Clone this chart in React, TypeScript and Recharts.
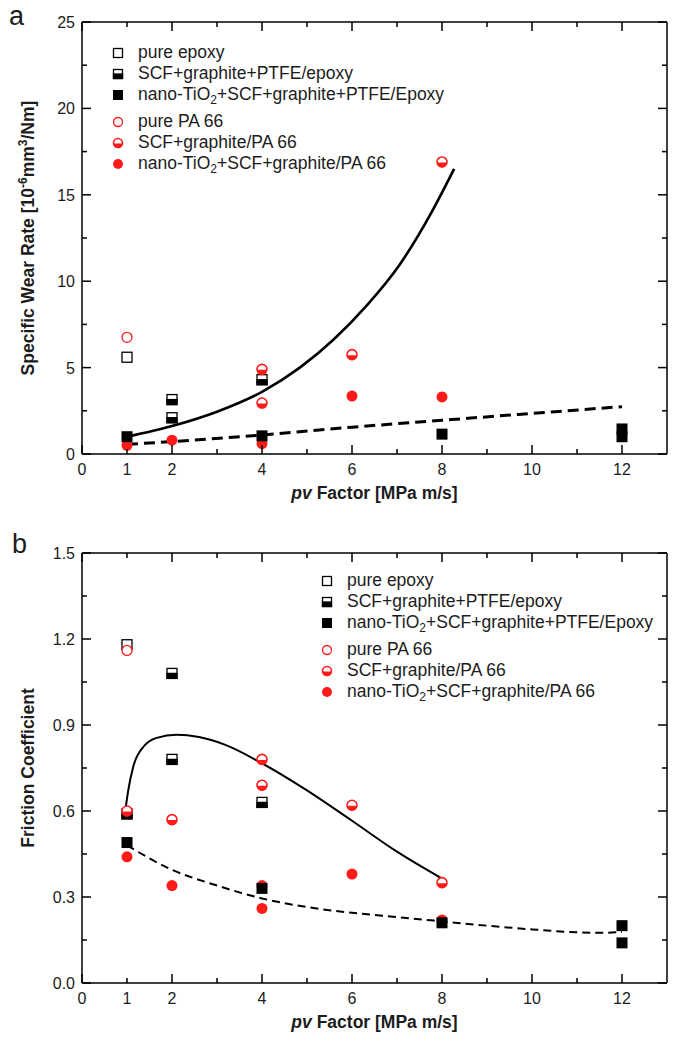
import {
  ComposedChart,
  Scatter,
  Line,
  XAxis,
  YAxis,
  ReferenceLine,
  Legend,
  Label,
} from 'recharts';

const FONT = '"Liberation Sans", Arial, Helvetica, sans-serif';
const RED = '#ff1a1a';
const INK = '#1c1c1c';

// pv factor axis (shared by both panels)
const xTicks = [0, 1, 2, 3, 4, 5, 6, 7, 8, 9, 10, 11, 12];
const xLabels = [0, 1, 2, 4, 6, 8, 10, 12];

// panel a: specific wear rate [10^-6 mm3/Nm]
const wearTicks = [0, 2.5, 5, 7.5, 10, 12.5, 15, 17.5, 20, 22.5, 25];
const wearPureEpoxy = [{ x: 1, y: 5.6 }];
const wearScfEpoxy = [
  { x: 2, y: 3.15 },
  { x: 2, y: 2.1 },
  { x: 4, y: 4.3 },
];
const wearNanoEpoxy = [
  { x: 1, y: 1.0 },
  { x: 4, y: 1.05 },
  { x: 8, y: 1.15 },
  { x: 12, y: 1.45 },
  { x: 12, y: 1.0 },
];
const wearPurePA = [{ x: 1, y: 6.75 }];
const wearScfPA = [
  { x: 4, y: 4.9 },
  { x: 4, y: 2.95 },
  { x: 6, y: 5.75 },
  { x: 8, y: 16.9 },
];
const wearNanoPA = [
  { x: 1, y: 0.5 },
  { x: 2, y: 0.8 },
  { x: 4, y: 0.6 },
  { x: 6, y: 3.35 },
  { x: 8, y: 3.3 },
];
// fitted curves
const wearFitSolid = [
  { x: 1, y: 1.0 },
  { x: 2, y: 1.62 },
  { x: 3, y: 2.45 },
  { x: 4, y: 3.6 },
  { x: 4.84, y: 5.0 },
  { x: 5.58, y: 6.6 },
  { x: 6.33, y: 8.6 },
  { x: 7.07, y: 11.0 },
  { x: 7.77, y: 14.0 },
  { x: 8.27, y: 16.5 },
];
const wearFitDashed = [
  { x: 1, y: 0.56 },
  { x: 2, y: 0.72 },
  { x: 4, y: 1.1 },
  { x: 6, y: 1.55 },
  { x: 8, y: 1.95 },
  { x: 10, y: 2.35 },
  { x: 12, y: 2.74 },
];

// panel b: friction coefficient
const fricTicks = [0, 0.15, 0.3, 0.45, 0.6, 0.75, 0.9, 1.05, 1.2, 1.35, 1.5];
const fricPureEpoxy = [{ x: 1, y: 1.18 }];
const fricScfEpoxy = [
  { x: 1, y: 0.59 },
  { x: 2, y: 1.08 },
  { x: 2, y: 0.78 },
  { x: 4, y: 0.63 },
];
const fricNanoEpoxy = [
  { x: 1, y: 0.49 },
  { x: 4, y: 0.33 },
  { x: 8, y: 0.21 },
  { x: 12, y: 0.2 },
  { x: 12, y: 0.14 },
];
const fricPurePA = [{ x: 1, y: 1.16 }];
const fricScfPA = [
  { x: 1, y: 0.6 },
  { x: 2, y: 0.57 },
  { x: 4, y: 0.78 },
  { x: 4, y: 0.69 },
  { x: 6, y: 0.62 },
  { x: 8, y: 0.35 },
];
const fricNanoPA = [
  { x: 1, y: 0.44 },
  { x: 2, y: 0.34 },
  { x: 4, y: 0.34 },
  { x: 4, y: 0.26 },
  { x: 6, y: 0.38 },
  { x: 8, y: 0.22 },
];
const fricFitSolid = [
  { x: 0.97, y: 0.61 },
  { x: 1.03, y: 0.674 },
  { x: 1.14, y: 0.755 },
  { x: 1.37, y: 0.825 },
  { x: 1.66, y: 0.855 },
  { x: 2.1, y: 0.866 },
  { x: 2.6, y: 0.858 },
  { x: 3.2, y: 0.83 },
  { x: 3.96, y: 0.77 },
  { x: 5.0, y: 0.672 },
  { x: 6.0, y: 0.566 },
  { x: 7.0, y: 0.458 },
  { x: 7.98, y: 0.366 },
];
const fricFitDashed = [
  { x: 1, y: 0.48 },
  { x: 2, y: 0.395 },
  { x: 3, y: 0.34 },
  { x: 4, y: 0.295 },
  { x: 5, y: 0.265 },
  { x: 6, y: 0.245 },
  { x: 7, y: 0.23 },
  { x: 8, y: 0.215 },
  { x: 9, y: 0.2 },
  { x: 10, y: 0.187 },
  { x: 11, y: 0.177 },
  { x: 11.5, y: 0.175 },
  { x: 12, y: 0.178 },
];

type Kind = 'sqOpen' | 'sqHalf' | 'sqFull' | 'cOpen' | 'cHalf' | 'cFull';

const subStyle = { fontSize: 12, verticalAlign: -4, lineHeight: 0 };

const legendRows: { kind: Kind; label: React.ReactNode }[] = [
  { kind: 'sqOpen', label: 'pure epoxy' },
  { kind: 'sqHalf', label: 'SCF+graphite+PTFE/epoxy' },
  {
    kind: 'sqFull',
    label: (
      <>
        nano-TiO<sub style={subStyle}>2</sub>+SCF+graphite+PTFE/Epoxy
      </>
    ),
  },
  { kind: 'cOpen', label: 'pure PA 66' },
  { kind: 'cHalf', label: 'SCF+graphite/PA 66' },
  {
    kind: 'cFull',
    label: (
      <>
        nano-TiO<sub style={subStyle}>2</sub>+SCF+graphite/PA 66
      </>
    ),
  },
];

function Marker({ kind, cx, cy, s = 10 }: { kind: Kind; cx: number; cy: number; s?: number }) {
  const h = s / 2;
  const r = s / 2 + 0.5;
  switch (kind) {
    case 'sqOpen':
      return <rect x={cx - h} y={cy - h} width={s} height={s} fill="#fff" stroke="#000" strokeWidth={1.3} />;
    case 'sqHalf':
      return (
        <g>
          <rect x={cx - h} y={cy - h} width={s} height={s} fill="#fff" stroke="#000" strokeWidth={1.3} />
          <rect x={cx - h} y={cy} width={s} height={h} fill="#000" stroke="#000" strokeWidth={1.3} />
        </g>
      );
    case 'sqFull':
      return <rect x={cx - h - 0.5} y={cy - h - 0.5} width={s + 1} height={s + 1} fill="#000" />;
    case 'cOpen':
      return <circle cx={cx} cy={cy} r={r - 0.5} fill="#fff" stroke={RED} strokeWidth={1.3} />;
    case 'cHalf':
      return (
        <g>
          <circle cx={cx} cy={cy} r={r - 0.5} fill="#fff" stroke={RED} strokeWidth={1.6} />
          <path
            d={`M${cx - r + 0.5},${cy + 0.5} A${r - 0.5},${r - 0.5} 0 0 0 ${cx + r - 0.5},${cy + 0.5} Z`}
            fill={RED}
          />
        </g>
      );
    default:
      return <circle cx={cx} cy={cy} r={r} fill={RED} />;
  }
}

const shapeOf = (kind: Kind) => (p: any) => <Marker kind={kind} cx={p.cx} cy={p.cy} />;

function makeXTick(plotH: number) {
  return (props: any) => {
    const { x, y, payload, index } = props;
    const len = index % 2 === 0 ? 9 : 5;
    const v = payload.value;
    return (
      <g>
        <line x1={x} x2={x} y1={y} y2={y - len} stroke="#000" strokeWidth={1.5} />
        <line x1={x} x2={x} y1={y - plotH} y2={y - plotH + len} stroke="#000" strokeWidth={1.5} />
        {xLabels.includes(v) && (
          <text x={x} y={y + 21} textAnchor="middle" fontSize={16} fill={INK} fontFamily={FONT}>
            {v}
          </text>
        )}
      </g>
    );
  };
}

function makeYTick(plotW: number, digits: number) {
  return (props: any) => {
    const { x, y, payload, index } = props;
    const major = index % 2 === 0;
    const len = major ? 9 : 5;
    return (
      <g>
        <line x1={x} x2={x + len} y1={y} y2={y} stroke="#000" strokeWidth={1.5} />
        <line x1={x + plotW - len} x2={x + plotW} y1={y} y2={y} stroke="#000" strokeWidth={1.5} />
        {major && (
          <text x={x - 7} y={y + 6} textAnchor="end" fontSize={16} fill={INK} fontFamily={FONT}>
            {payload.value.toFixed(digits)}
          </text>
        )}
      </g>
    );
  };
}

function makeLegend() {
  return () => (
    <div style={{ fontFamily: FONT, fontSize: 17.5, color: INK }}>
      {legendRows.map((row, i) => (
        <div
          key={i}
          style={{
            height: 21,
            display: 'flex',
            alignItems: 'center',
            marginTop: i === 3 ? 6 : 0,
            whiteSpace: 'nowrap',
          }}
        >
          <svg width={12} height={12} style={{ marginRight: 14, flex: 'none' }}>
            <Marker kind={row.kind} cx={6} cy={6} s={9} />
          </svg>
          <span>{row.label}</span>
        </div>
      ))}
    </div>
  );
}

const xLabelContent = (props: any) => {
  const vb = props.viewBox;
  return (
    <text
      x={vb.x + vb.width / 2}
      y={vb.y + 45}
      textAnchor="middle"
      fontSize={17.5}
      fontWeight="bold"
      fill={INK}
      fontFamily={FONT}
    >
      <tspan fontStyle="italic">pv</tspan> Factor [MPa m/s]
    </text>
  );
};

const wearLabelContent = (props: any) => {
  const vb = props.viewBox;
  const cx = vb.x + 34;
  const cy = vb.y + vb.height / 2;
  return (
    <text
      x={cx}
      y={cy}
      transform={`rotate(-90 ${cx} ${cy})`}
      textAnchor="middle"
      fontSize={17.5}
      fontWeight="bold"
      fill={INK}
      fontFamily={FONT}
    >
      <tspan>Specific Wear Rate [10</tspan>
      <tspan dy={-7} fontSize={12}>-6</tspan>
      <tspan dy={7}>mm</tspan>
      <tspan dy={-7} fontSize={12}>3</tspan>
      <tspan dy={7}>/Nm]</tspan>
    </text>
  );
};

const fricLabelContent = (props: any) => {
  const vb = props.viewBox;
  const cx = vb.x + 34;
  const cy = vb.y + vb.height / 2;
  return (
    <text
      x={cx}
      y={cy}
      transform={`rotate(-90 ${cx} ${cy})`}
      textAnchor="middle"
      fontSize={17.5}
      fontWeight="bold"
      fill={INK}
      fontFamily={FONT}
    >
      Friction Coefficient
    </text>
  );
};

const PLOT_W = 585;

function Panel({
  top,
  height,
  marginTop,
  plotH,
  yMax,
  yTicks,
  digits,
  yLabel,
  legendPos,
  sets,
  solid,
  dashed,
  solidWidth,
  dashedWidth,
  dash,
}: any) {
  const [pureEp, scfEp, nanoEp, purePA, scfPA, nanoPA] = sets;
  return (
    <div style={{ position: 'absolute', left: 0, top }}>
      <ComposedChart
        width={673}
        height={height}
        margin={{ top: marginTop, right: 6, bottom: 0, left: 0 }}
      >
        <XAxis
          type="number"
          dataKey="x"
          domain={[0, 13]}
          ticks={xTicks}
          interval={0}
          allowDataOverflow
          height={height - marginTop - plotH}
          tickSize={0}
          tickMargin={0}
          tickLine={false}
          tick={makeXTick(plotH)}
          axisLine={{ stroke: '#000', strokeWidth: 1.5 }}
        >
          <Label content={xLabelContent} />
        </XAxis>
        <YAxis
          type="number"
          dataKey="y"
          domain={[0, yMax]}
          ticks={yTicks}
          interval={0}
          allowDataOverflow
          width={82}
          tickSize={0}
          tickMargin={0}
          tickLine={false}
          tick={makeYTick(PLOT_W, digits)}
          axisLine={{ stroke: '#000', strokeWidth: 1.5 }}
        >
          <Label content={yLabel} />
        </YAxis>
        <ReferenceLine y={yMax} stroke="#000" strokeWidth={1.5} />
        <ReferenceLine x={13} stroke="#000" strokeWidth={1.5} />
        <Line
          data={solid}
          dataKey="y"
          type="monotone"
          stroke="#000"
          strokeWidth={solidWidth}
          dot={false}
          activeDot={false}
          isAnimationActive={false}
        />
        <Line
          data={dashed}
          dataKey="y"
          type="monotone"
          stroke="#000"
          strokeWidth={dashedWidth}
          strokeDasharray={dash}
          dot={false}
          activeDot={false}
          isAnimationActive={false}
        />
        <Scatter name="pure epoxy" data={pureEp} dataKey="y" shape={shapeOf('sqOpen')} isAnimationActive={false} />
        <Scatter name="pure PA 66" data={purePA} dataKey="y" shape={shapeOf('cOpen')} isAnimationActive={false} />
        <Scatter name="SCF+graphite+PTFE/epoxy" data={scfEp} dataKey="y" shape={shapeOf('sqHalf')} isAnimationActive={false} />
        <Scatter name="SCF+graphite/PA 66" data={scfPA} dataKey="y" shape={shapeOf('cHalf')} isAnimationActive={false} />
        <Scatter name="nano PA 66" data={nanoPA} dataKey="y" shape={shapeOf('cFull')} isAnimationActive={false} />
        <Scatter name="nano epoxy" data={nanoEp} dataKey="y" shape={shapeOf('sqFull')} isAnimationActive={false} />
        <Legend
          layout="vertical"
          align="center"
          verticalAlign="middle"
          content={makeLegend()}
          wrapperStyle={{ left: legendPos[0], top: legendPos[1], width: 'auto', height: 'auto' }}
        />
      </ComposedChart>
    </div>
  );
}

export default function App() {
  return (
    <div
      style={{
        position: 'absolute',
        left: 0,
        top: 0,
        width: 673,
        height: 1037,
        background: '#fff',
        fontFamily: FONT,
      }}
    >
      <svg width={40} height={560} style={{ position: 'absolute', left: 0, top: 0 }}>
        <text x={9} y={25} fontSize={27} fill={INK} fontFamily={FONT}>a</text>
        <text x={12} y={553} fontSize={27} fill={INK} fontFamily={FONT}>b</text>
      </svg>
      <Panel
        top={0}
        height={520}
        marginTop={22}
        plotH={432}
        yMax={25}
        yTicks={wearTicks}
        digits={0}
        yLabel={wearLabelContent}
        legendPos={[112, 42]}
        sets={[wearPureEpoxy, wearScfEpoxy, wearNanoEpoxy, wearPurePA, wearScfPA, wearNanoPA]}
        solid={wearFitSolid}
        dashed={wearFitDashed}
        solidWidth={2.6}
        dashedWidth={3}
        dash="11 6"
      />
      <Panel
        top={520}
        height={517}
        marginTop={33}
        plotH={430}
        yMax={1.5}
        yTicks={fricTicks}
        digits={1}
        yLabel={fricLabelContent}
        legendPos={[321, 50]}
        sets={[fricPureEpoxy, fricScfEpoxy, fricNanoEpoxy, fricPurePA, fricScfPA, fricNanoPA]}
        solid={fricFitSolid}
        dashed={fricFitDashed}
        solidWidth={2}
        dashedWidth={2}
        dash="8 5"
      />
    </div>
  );
}
